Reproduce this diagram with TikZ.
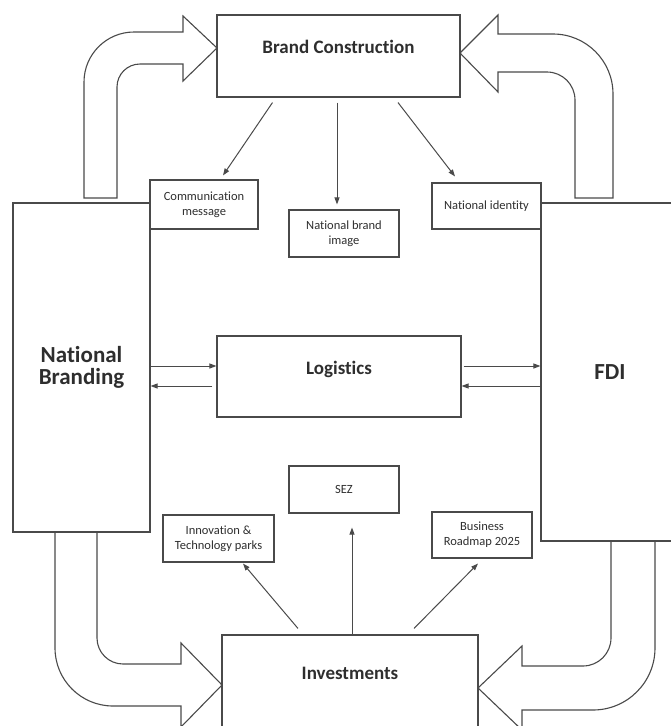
\documentclass[tikz,border=0pt]{standalone}
\usepackage{fontspec}
\setmainfont{Carlito}[Ligatures={NoCommon,NoRare}]
\usetikzlibrary{arrows.meta,calc}
\definecolor{lineGray}{HTML}{4A4A4A}
\definecolor{textGray}{HTML}{2E2E2E}
\tikzset{concept box/.style={draw=lineGray, line width=1.1pt, text=textGray, inner sep=0pt,
		font=\bfseries\fontsize{19}{23}\selectfont, align=center}}
\tikzset{detail box/.style={draw=lineGray, line width=1.1pt, text=textGray, inner sep=0pt,
		font=\fontsize{12.5}{15}\selectfont, align=center}}
\tikzset{block arrow/.style={draw=lineGray, line width=1.1pt, fill=white}}
\tikzset{link/.style={draw=lineGray, line width=1pt, ->}}

\begin{document}
\begin{tikzpicture}[>={Triangle[length=7pt,width=5pt]}, x=1pt, y=-1pt]
	\useasboundingbox (0,0) rectangle (671,726);
	\clip (0,0) rectangle (671,726);
	% big turning arrows
	\draw[block arrow] (84,198) -- (84,82) arc[start angle=180, end angle=90, radius=50pt] -- (183,32) -- (183,16)
		-- (217,48) -- (183,81) -- (183,64) -- (140,64) arc[start angle=90, end angle=180, radius=23pt] -- (117,198) -- cycle;
	\draw[block arrow] (613,198) -- (613,94) arc[start angle=0, end angle=90, radius=60pt] -- (498,34) -- (498,15)
		-- (460,53) -- (498,92) -- (498,72) -- (547,72) arc[start angle=90, end angle=0, radius=28pt] -- (575,198) -- cycle;
	\draw[block arrow] (55,532) -- (55,648) arc[start angle=180, end angle=270, radius=58pt] -- (181,706) -- (181,727)
		-- (222,685) -- (181,643) -- (181,664) -- (123,664) arc[start angle=270, end angle=180, radius=26pt] -- (97,532) -- cycle;
	\draw[block arrow] (655,541) -- (655,648) arc[start angle=0, end angle=-90, radius=62pt] -- (522,710) -- (522,730)
		-- (478,688) -- (522,646) -- (522,666) -- (583,666) arc[start angle=-90, end angle=0, radius=28pt] -- (611,541) -- cycle;

	\node[concept box, minimum width=243pt, minimum height=82pt, text height=12pt, text depth=18pt] at (338.5,56) (bc) {Brand Construction};
	\node[concept box, font=\bfseries\fontsize{23}{22}\selectfont, minimum width=137pt, minimum height=329pt] at (81.5,367.5) (nb) {National\\Branding};
	\node[concept box, font=\bfseries\fontsize{23}{22}\selectfont, minimum width=138pt, minimum height=338pt] at (610,372) (fdi) {FDI};
	\node[concept box, minimum width=244pt, minimum height=81pt, text height=12pt, text depth=17pt] at (339,376.5) (log) {Logistics};
	\node[concept box, minimum width=256pt, minimum height=130pt, text height=12pt, text depth=54pt] at (350,700) (inv) {Investments};

	\node[detail box, minimum width=108pt, minimum height=49pt] at (204,204.5) (cm) {Communication\\message};
	\node[detail box, minimum width=110pt, minimum height=47pt] at (344,233.5) (nbi) {National brand\\image};
	\node[detail box, minimum width=109pt, minimum height=46pt] at (486.5,206) (ni) {National identity};
	\node[detail box, minimum width=110pt, minimum height=47pt] at (344,489.5) (sez) {SEZ};
	\node[detail box, minimum width=111pt, minimum height=47pt] at (218.5,538.5) (inn) {Innovation \&\\Technology parks};
	\node[detail box, minimum width=100pt, minimum height=46pt] at (482,535) (br) {Business\\Roadmap 2025};

	\draw[link] ($(bc.south)+(-66,5)$) -- ($(cm.north)+(19,-4)$);
	\draw[link] ($(bc.south)+(-1.5,5)$) -- ($(nbi.north)+(-7,-5)$);
	\draw[link] ($(bc.south)+(59.5,5)$) -- ($(ni.north)+(-31.5,-6)$);
	\draw[link] (nb.east |- 0,366) -- (log.west |- 0,366);
	\draw[link, shorten <=4pt] (log.west |- 0,386) -- (nb.east |- 0,386);
	\draw[link, shorten <=2pt] (log.east |- 0,366) -- (fdi.west |- 0,366);
	\draw[link] (fdi.west |- 0,386) -- (log.east |- 0,386);
	\draw[link] ($(inv.north)+(-52,-6)$) -- ($(inn.south)+(24.5,1)$);
	\draw[link] ($(inv.north)+(2,0)$) -- ($(sez.south)+(8,14)$);
	\draw[link] ($(inv.north)+(64,-6)$) -- ($(br.south)+(-4,5)$);
\end{tikzpicture}
\end{document}
